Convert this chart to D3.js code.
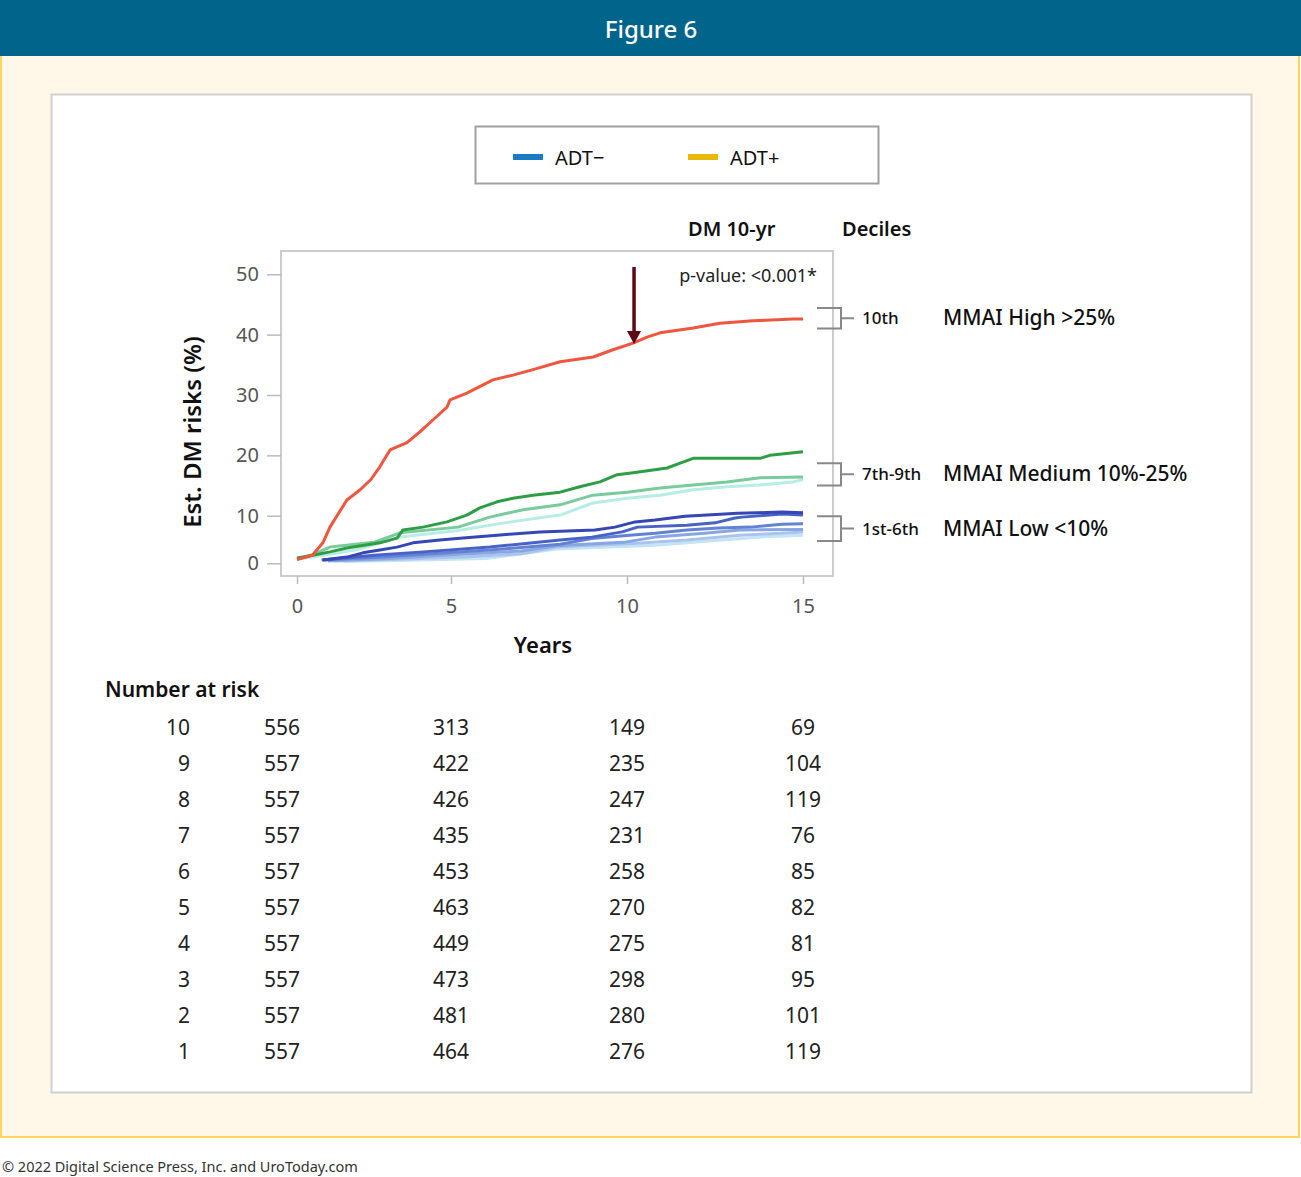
<!DOCTYPE html>
<html>
<head>
<meta charset="utf-8">
<script src="https://d3js.org/d3.v7.min.js"></script>
<style>
  body { margin: 0; background: #fff; }
  text { font-family: "Noto Sans", "Open Sans", sans-serif; }
</style>
</head>
<body>
<svg width="1301" height="1177"></svg>
<script>
// ---- data ----
var xTicks = [0, 5, 10, 15];
var yTicks = [0, 10, 20, 30, 40, 50];

// cumulative DM risk (%) by decile, [years, risk]
var decile10 = [[0,0.8],[0.5,1.7],[0.84,4.3],[1.07,7.6],[1.3,10.0],[1.62,12.6],[2.05,14.3],[2.4,16.0],[2.69,18.1],[3.02,20.9],[3.57,22.1],[3.99,23.9],[4.42,25.9],[4.87,28.0],[4.97,29.2],[5.45,30.3],[6.19,32.5],[6.76,33.3],[7.33,34.2],[8.1,35.5],[9.04,36.3],[9.6,37.5],[10.17,38.6],[10.57,39.6],[10.94,40.3],[11.88,41.1],[12.64,41.9],[13.58,42.3],[14.72,42.6],[15,42.6]];
var decile9 = [[0,1.1],[0.52,1.7],[1.07,2.4],[1.62,3.2],[2.69,4.3],[3.25,5.3],[3.44,7.0],[4.09,7.6],[4.87,8.7],[5.45,10.1],[5.82,11.3],[6.31,12.3],[6.76,12.9],[7.33,13.4],[8.1,13.9],[8.66,14.8],[9.23,15.6],[9.72,16.8],[10.28,17.2],[11.14,17.9],[11.51,18.7],[11.88,19.5],[13.78,19.5],[14.06,20.0],[15,20.6]];
var decile8 = [[0,0.9],[0.5,1.8],[1.07,3.4],[2.5,4.4],[3.34,6.4],[5.2,7.6],[6.1,9.7],[7.05,11.0],[8.1,11.8],[9.03,13.4],[10.0,13.9],[10.94,14.6],[11.88,15.1],[12.84,15.6],[13.78,16.3],[15,16.4]];
var decile7 = [[0,0.9],[0.6,1.4],[1.9,2.8],[3.34,5.5],[5.2,6.9],[6.6,8.6],[8.1,10.1],[9.03,12.1],[10.0,12.9],[10.94,13.4],[11.88,14.3],[12.84,14.8],[13.78,15.1],[14.72,15.6],[15,16.0]];
var decile6 = [[0.84,0.7],[1.62,1.3],[2.14,2.2],[2.69,2.8],[3.25,3.4],[3.77,4.3],[4.64,4.9],[5.34,5.3],[6.31,5.9],[7.53,6.6],[9.09,7.0],[9.66,7.6],[10.23,8.7],[10.8,9.1],[11.65,9.9],[13.15,10.4],[14.4,10.6],[15,10.5]];
var decile5 = [[0.8,0.7],[2.5,1.7],[4.1,2.4],[6.1,3.4],[8.1,4.9],[9.0,5.5],[9.86,6.6],[10.3,7.6],[11.7,8.0],[12.5,8.5],[13.07,9.5],[13.27,9.7],[14.4,10.3],[15,10.1]];
var decile4 = [[0.9,0.7],[2.7,1.3],[4.1,1.9],[6.1,2.8],[8.1,4.0],[9.0,5.2],[9.9,5.8],[10.8,6.3],[11.7,7.0],[12.6,7.4],[13.5,7.6],[14.4,8.2],[15,8.3]];
var decile3 = [[1.0,0.5],[3.0,1.0],[5.0,1.8],[7.0,2.6],[8.0,3.7],[9.9,4.4],[10.8,5.5],[12.2,6.3],[13.2,7.0],[15,7.1]];
var decile2 = [[1.2,0.5],[3.5,0.9],[5.5,1.4],[7.0,2.0],[8.0,3.4],[10.3,4.2],[11.7,4.9],[13.2,5.9],[14.4,6.3],[15,6.6]];
var decile1 = [[1.5,0.4],[4.0,0.7],[6.0,1.0],[8.0,3.0],[10.8,3.8],[12.5,4.8],[13.9,5.6],[15,5.9]];

var riskDeciles = ["10", "9", "8", "7", "6", "5", "4", "3", "2", "1"];
var riskCounts = [
  [556, 313, 149, 69],
  [557, 422, 235, 104],
  [557, 426, 247, 119],
  [557, 435, 231, 76],
  [557, 453, 258, 85],
  [557, 463, 270, 82],
  [557, 449, 275, 81],
  [557, 473, 298, 95],
  [557, 481, 280, 101],
  [557, 464, 276, 119]
];

var groupLabels = [
  {dec: "10th", name: "MMAI High >25%", lo: 41.0, hi: 44.4},
  {dec: "7th-9th", name: "MMAI Medium 10%-25%", lo: 15.0, hi: 18.7},
  {dec: "1st-6th", name: "MMAI Low <10%", lo: 4.7, hi: 9.9}
];

var series = [
  {d: decile1, c: "#c4e3f4"},
  {d: decile2, c: "#a9c5ee"},
  {d: decile3, c: "#88a6e2"},
  {d: decile4, c: "#6482d4"},
  {d: decile5, c: "#4a62c6"},
  {d: decile6, c: "#3447b5"},
  {d: decile7, c: "#b6ede4"},
  {d: decile8, c: "#7acb9b"},
  {d: decile9, c: "#2f9e44"},
  {d: decile10, c: "#f0553e"}
];

var svg = d3.select("svg");

// ---- page frame ----
svg.append("rect").attr("x", 1).attr("y", 40).attr("width", 1298).attr("height", 1097)
  .attr("fill", "#fff8e8").attr("stroke", "#ffd75e").attr("stroke-width", 2);
svg.append("rect").attr("x", 0).attr("y", 0).attr("width", 1301).attr("height", 56)
  .attr("fill", "#01648a");
svg.append("text").attr("x", 651).attr("y", 38).attr("text-anchor", "middle")
  .attr("fill", "#fff").attr("font-size", "24px").attr("font-weight", 500).text("Figure 6");
svg.append("rect").attr("x", 51.5).attr("y", 94.5).attr("width", 1200).attr("height", 998)
  .attr("fill", "#fff").attr("stroke", "#d0d0d0").attr("stroke-width", 2);
svg.append("text").attr("x", 2).attr("y", 1172).attr("fill", "#333")
  .attr("font-size", "14.5px").text("© 2022 Digital Science Press, Inc. and UroToday.com");

// ---- legend ----
svg.append("rect").attr("x", 475.5).attr("y", 126.5).attr("width", 403).attr("height", 57)
  .attr("fill", "#fff").attr("stroke", "#a0a0a0").attr("stroke-width", 2);
var legend = [{t: "ADT\u2212", c: "#1a7ac4", x: 513}, {t: "ADT+", c: "#e8b90a", x: 688}];
legend.forEach(function(l) {
  svg.append("rect").attr("x", l.x).attr("y", 154).attr("width", 30).attr("height", 6).attr("fill", l.c);
  svg.append("text").attr("x", l.x + 42).attr("y", 165).attr("font-size", "20px")
    .attr("fill", "#111").text(l.t);
});

svg.append("text").attr("x", 688).attr("y", 236).attr("font-size", "20px").attr("font-weight", 600)
  .attr("fill", "#111").text("DM 10-yr");
svg.append("text").attr("x", 842).attr("y", 236).attr("font-size", "20px").attr("font-weight", 600)
  .attr("fill", "#111").text("Deciles");

// ---- scales (the original axes are not evenly spaced) ----
var x = d3.scaleLinear().domain([0, 5, 15]).range([297, 451, 803]);
var y = d3.scaleLinear().domain([0, 10, 50]).range([563.3, 515.7, 274.3]);

svg.append("rect").attr("x", 281).attr("y", 251).attr("width", 552).attr("height", 325)
  .attr("fill", "none").attr("stroke", "#cccccc").attr("stroke-width", 2);

var yaxis = d3.axisLeft(y).tickValues(yTicks).tickSize(14).tickPadding(8);
var xaxis = d3.axisBottom(x).tickValues(xTicks).tickSize(8).tickPadding(15);

function styleAxis(g) {
  g.select(".domain").remove();
  g.selectAll("line").attr("stroke", "#bbbbbb").attr("stroke-width", 1.5);
  g.selectAll("text").attr("fill", "#555").style("font-size", "20px")
    .style("font-family", "'Noto Sans', sans-serif");
}
svg.append("g").attr("transform", "translate(281,0)").call(yaxis).call(styleAxis);
svg.append("g").attr("transform", "translate(0,576)").call(xaxis).call(styleAxis);

svg.append("text").attr("x", 543).attr("y", 653).attr("text-anchor", "middle")
  .attr("font-size", "22px").attr("font-weight", 600).attr("fill", "#111").text("Years");
svg.append("text").attr("transform", "translate(201,432) rotate(-90)").attr("text-anchor", "middle")
  .attr("font-size", "24px").attr("font-weight", 600).attr("fill", "#111").text("Est. DM risks (%)");

// ---- curves ----
var defs = svg.append("defs");
defs.append("filter").attr("id", "soft").append("feGaussianBlur").attr("stdDeviation", 0.5);

var line = d3.line().x(function(d) { return x(d[0]); }).y(function(d) { return y(d[1]); });

svg.append("g").attr("filter", "url(#soft)").selectAll("path").data(series).enter().append("path")
  .attr("d", function(s) { return line(s.d); })
  .attr("fill", "none").attr("stroke", function(s) { return s.c; })
  .attr("stroke-width", 3).attr("stroke-linejoin", "round");

// arrow at 10 years
svg.append("line").attr("x1", x(10.2)).attr("x2", x(10.2)).attr("y1", 267).attr("y2", 333)
  .attr("stroke", "#5c0a14").attr("stroke-width", 3.5);
svg.append("path").attr("d", "M" + (x(10.2) - 7) + ",331 L" + (x(10.2) + 7) + ",331 L" + x(10.2) + ",344 Z")
  .attr("fill", "#5c0a14");

svg.append("text").attr("x", 817).attr("y", 282).attr("text-anchor", "end")
  .attr("font-size", "18px").attr("fill", "#222").text("p-value: <0.001*");

// ---- group brackets ----
groupLabels.forEach(function(gl) {
  var y0 = y(gl.hi), y1 = y(gl.lo), ym = (y0 + y1) / 2;
  svg.append("path").attr("d", "M817," + y0 + " H841 V" + y1 + " H817 M841," + ym + " H854")
    .attr("fill", "none").attr("stroke", "#888").attr("stroke-width", 2);
  svg.append("text").attr("x", 862).attr("y", ym + 6).attr("font-size", "17px")
    .attr("font-weight", 500).attr("fill", "#111").text(gl.dec);
  svg.append("text").attr("x", 943).attr("y", ym + 7).attr("font-size", "21px")
    .attr("font-weight", 500).attr("fill", "#111").text(gl.name);
});

// ---- number at risk ----
svg.append("text").attr("x", 105).attr("y", 697).attr("font-size", "21px").attr("font-weight", 600)
  .attr("fill", "#111").text("Number at risk");

riskDeciles.forEach(function(dec, i) {
  var yy = 735 + i * 36;
  svg.append("text").attr("x", 190).attr("y", yy).attr("text-anchor", "end")
    .attr("font-size", "21px").attr("fill", "#222").text(dec);
  riskCounts[i].forEach(function(n, j) {
    svg.append("text").attr("x", x(xTicks[j]) - (j === 0 ? 15 : 0)).attr("y", yy)
      .attr("text-anchor", "middle").attr("font-size", "21px").attr("fill", "#222").text(n);
  });
});
</script>
</body>
</html>
